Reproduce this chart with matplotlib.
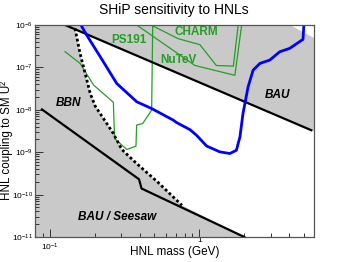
import numpy as np
import matplotlib
matplotlib.use("Agg")
import matplotlib.pyplot as plt
from matplotlib.ticker import FixedLocator, LogLocator, NullFormatter

plt.rcParams['font.family'] = ['Liberation Sans', 'DejaVu Sans']
plt.rcParams['mathtext.default'] = 'regular'

# axis ranges
x_lim = (0.08, 5.84)
y_lim = (1e-11, 1e-6)

# BAU upper bound
bau_x = [0.127, 5.6]
bau_y = [1e-6, 3.3e-9]

# BAU / seesaw lower bound
seesaw_x = [0.089, 0.396, 0.412, 2.0]
seesaw_y = [1.02e-8, 2.3e-10, 1.39e-10, 1e-11]

# BBN (dotted)
bbn_x = [0.148, 0.160, 0.173, 0.187, 0.202, 0.267, 0.304, 0.382, 0.530, 0.766]
bbn_y = [8.3e-7, 2.14e-7, 7.2e-8, 2.43e-8, 1.22e-8, 2.76e-9, 1.16e-9, 5.4e-10, 1.95e-10, 5.6e-11]

# SHiP sensitivity
ship_x = [0.162, 0.177, 0.218, 0.281, 0.382, 0.481, 0.671, 0.706, 0.867, 0.960, 1.12,
          1.37, 1.60, 1.77, 1.87, 1.96, 2.12, 2.29, 2.54, 2.96, 3.45, 4.02, 4.93, 5.0]
ship_y = [1e-6, 5.8e-7, 1.79e-7, 4.19e-8, 1.55e-8, 1.07e-8, 5.7e-9, 5.0e-9, 3.4e-9, 2.5e-9, 1.4e-9,
          1.02e-9, 9.3e-10, 1.11e-9, 2.3e-9, 8.2e-9, 3.5e-8, 8.6e-8, 1.24e-7, 1.49e-7, 2.34e-7, 2.81e-7, 4.58e-7, 1e-6]

# existing limits
ps191_x = [0.127, 0.160, 0.197, 0.267, 0.272, 0.328, 0.378, 0.382, 0.419, 0.481, 0.489]
ps191_y = [2.35e-7, 1.24e-7, 3.83e-8, 1.5e-8, 2.1e-9, 1.16e-9, 1.39e-9, 4.35e-9, 4.75e-9, 9.8e-9, 1e-6]

charm_x = [0.476, 0.724, 1.01, 1.30, 1.69, 1.82]
charm_y = [1e-6, 4.75e-7, 3.43e-7, 1.11e-7, 1.07e-7, 1e-6]

nutev_x = [0.382, 0.936, 1.73, 1.92]
nutev_y = [1e-6, 1.11e-7, 6.5e-8, 1e-6]

# white corner at top right
corner_x = [4.02, 5.84, 5.84]
corner_y = [1e-6, 1e-6, 4.9e-7]

x_ticks = [0.1, 1]
x_ticklabels = ['$10^{-1}$', '1']

gray = '#c9c9c9'
green = '#22a022'

fig = plt.figure(figsize=(3.49, 2.62), dpi=100)
ax = fig.add_axes([0.1003, 0.0954, 0.7994, 0.8092])
ax.set_xscale('log')
ax.set_yscale('log')
ax.set_xlim(*x_lim)
ax.set_ylim(*y_lim)
ax.set_facecolor(gray)

# BAU line extended to the frame for the allowed region
lx = np.log10(bau_x)
ly = np.log10(bau_y)
k = (ly[1] - ly[0]) / (lx[1] - lx[0])
bau_at = lambda x: 10 ** (ly[0] + k * (np.log10(x) - lx[0]))

wx = bbn_x + [seesaw_x[-1], x_lim[1], x_lim[1], bbn_x[0]]
wy = bbn_y + [y_lim[0], y_lim[0], bau_at(x_lim[1]), bau_at(bbn_x[0])]
ax.fill(wx, wy, color='white', lw=0, zorder=1)
ax.fill(corner_x, corner_y, color='white', lw=0, zorder=1)

ax.plot(ps191_x, ps191_y, color=green, lw=0.9, zorder=2)
ax.plot(charm_x, charm_y, color=green, lw=0.9, zorder=2)
ax.plot(nutev_x, nutev_y, color=green, lw=0.9, zorder=2)
ax.plot(bau_x, bau_y, color='black', lw=1.6, zorder=3)
ax.plot(seesaw_x, seesaw_y, color='black', lw=1.6, zorder=3)
ax.plot(bbn_x, bbn_y, color='black', lw=2.0, ls=(0, (1.0, 0.9)), zorder=3)
ax.plot(ship_x, ship_y, color='#0000ff', lw=2.0, zorder=4)

lbl = dict(fontsize=8.5, fontweight='bold', ha='center', va='center', zorder=5)
ax.text(0.34, 4.4e-7, 'PS191', color=green, **lbl)
ax.text(0.95, 6.8e-7, 'CHARM', color=green, **lbl)
ax.text(0.724, 1.49e-7, 'NuTeV', color=green, **lbl)
ax.text(0.135, 1.46e-8, 'BBN', color='black', style='italic', **lbl)
ax.text(3.31, 2.18e-8, 'BAU', color='black', style='italic', **lbl)
ax.text(0.281, 2.9e-11, 'BAU / Seesaw', color='black', style='italic', **lbl)

# ticks
ax.xaxis.set_major_locator(FixedLocator(x_ticks))
ax.xaxis.set_major_formatter(NullFormatter())
ax.xaxis.set_minor_locator(LogLocator(base=10, subs=np.arange(2, 10)))
ax.xaxis.set_minor_formatter(NullFormatter())
ax.yaxis.set_major_locator(LogLocator(base=10, numticks=10))
ax.yaxis.set_minor_locator(LogLocator(base=10, subs=np.arange(2, 10), numticks=10))
ax.yaxis.set_minor_formatter(NullFormatter())
ax.tick_params(which='both', direction='in', top=False, right=False, labelsize=6,
               color='#333333', width=0.7)
ax.tick_params(which='major', length=5.5)
ax.tick_params(axis='y', which='major', pad=1.5)
ax.tick_params(which='minor', length=3)
for s in ax.spines.values():
    s.set_color('#555555')
    s.set_linewidth(0.9)
    s.set_zorder(6)

# x tick labels, ROOT-like placement (the "1" sits higher)
xt = ax.get_xaxis_transform()
ax.text(x_ticks[0], -0.022, x_ticklabels[0], transform=xt, fontsize=6, ha='center', va='top')
ax.text(x_ticks[1], -0.002, x_ticklabels[1], transform=xt, fontsize=6, ha='center', va='top')

fig.text(174 / 349, 1 - 10 / 262, 'SHiP sensitivity to HNLs', fontsize=10, ha='center', va='center')
fig.text(174.5 / 349, 1 - 251.5 / 262, 'HNL mass (GeV)', fontsize=8.5, ha='center', va='center')
fig.text(6.5 / 349, 1 - 141 / 262, 'HNL coupling to SM U²', fontsize=8.4, ha='center', va='center',
         rotation=90)

fig.savefig('out.png', dpi=100)
